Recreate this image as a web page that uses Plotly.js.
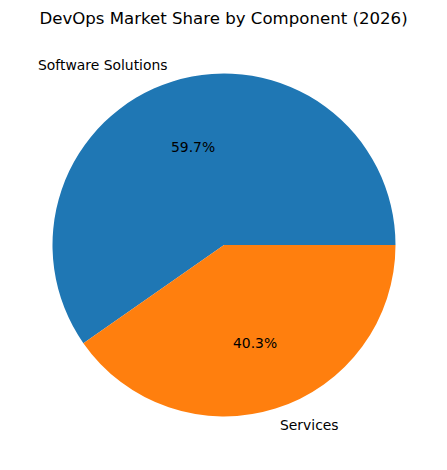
<!DOCTYPE html>
<html>
<head>
<meta charset="utf-8">
<script src="https://cdn.plot.ly/plotly-3.0.1.min.js"></script>
<style>html,body{margin:0;padding:0;background:#fff}</style>
</head>
<body>
<div id="chart" style="width:447px;height:470px"></div>
<script>
const labels = ['Software Solutions', 'Services']
const shares = [59.7, 40.3]
const colors = ['#1f77b4', '#ff7f0e']

const W = 447, H = 470
// pie centre and radius in pixels
const cx = 224, cy = 245, r = 171.5

const total = shares.reduce((a, b) => a + b, 0)
const annotations = []
let start = 0
shares.forEach(function (v, i) {
  const mid = (start + v / 2) / total * 2 * Math.PI
  start += v
  const c = Math.cos(mid), s = Math.sin(mid)
  // percentage inside at 0.6 r
  annotations.push({
    x: (cx + 0.6 * r * c) / W, y: 1 - (cy - 0.6 * r * s) / H,
    xref: 'paper', yref: 'paper', showarrow: false,
    text: v.toFixed(1) + '%', xanchor: 'center', yanchor: 'middle',
    font: { size: 13.9, color: '#000' }
  })
  // label outside at 1.1 r
  annotations.push({
    x: (cx + 1.1 * r * c) / W, y: 1 - (cy - 1.1 * r * s) / H,
    xref: 'paper', yref: 'paper', showarrow: false, borderpad: 0,
    text: labels[i], xanchor: c < 0 ? 'right' : 'left', yanchor: 'middle',
    xshift: c < 0 ? 1 : -2,
    font: { size: 13.9, color: '#000' }
  })
})

// plotly ccw: first slice is laid from rotation+v back to rotation,
// so shift so that it starts at 3 o'clock going counterclockwise
const rot = 90 - 360 * shares[0] / total

const data = [{
  type: 'pie',
  labels: labels,
  values: shares,
  sort: false,
  direction: 'counterclockwise',
  rotation: rot,
  textinfo: 'none',
  hoverinfo: 'label+percent',
  marker: { colors: colors, line: { width: 0 } },
  domain: { x: [(cx - r) / W, (cx + r) / W], y: [1 - (cy + r) / H, 1 - (cy - r) / H] }
}]

const layout = {
  width: W, height: H,
  margin: { l: 0, r: 0, t: 0, b: 0 },
  showlegend: false,
  paper_bgcolor: '#fff',
  font: { family: 'DejaVu Sans, sans-serif', color: '#000' },
  title: {
    text: 'DevOps Market Share by Component (2026)',
    x: 0.5, xanchor: 'center', y: 1 - 18 / H, yanchor: 'middle', yref: 'container',
    font: { size: 16.6, color: '#000' }
  },
  annotations: annotations
}

Plotly.newPlot('chart', data, layout, { displayModeBar: false, staticPlot: true })
</script>
</body>
</html>
